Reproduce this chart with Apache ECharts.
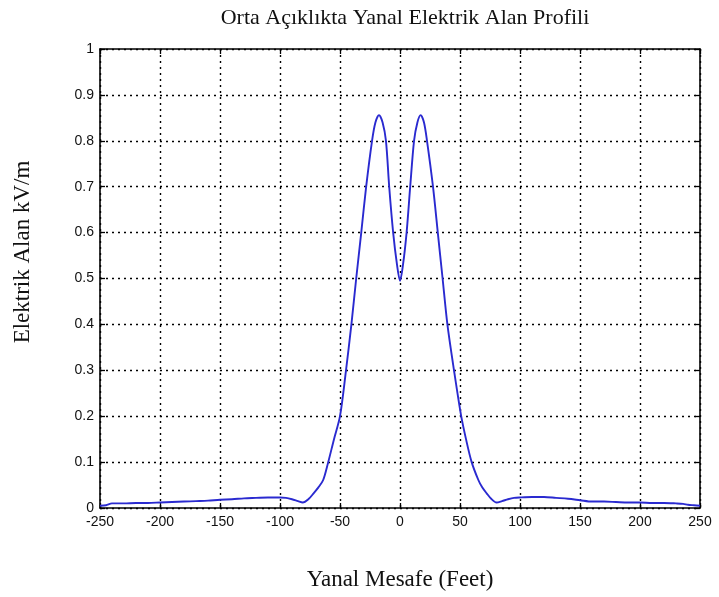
<!DOCTYPE html>
<html>
<head>
<meta charset="utf-8">
<script src="https://cdn.jsdelivr.net/npm/echarts@6/dist/echarts.min.js"></script>
<style>
  html, body { margin: 0; padding: 0; background: #fff; }
  #chart { width: 719px; height: 597px; }
</style>
</head>
<body>
<div id="chart"></div>
<script>
// Lateral distance from the line centre (feet)
const distanceFt = [
  -250, -245, -240, -230, -220, -210, -200, -190, -180, -170, -160, -150,
  -140, -130, -120, -110, -100, -95, -90, -85, -81, -76, -72, -68, -64,
  -60, -55, -50, -45, -40.5, -36.5, -32.3, -28.2, -23.3, -20.5, -17.5,
  -14.5, -11.7, -9, -5.7, -2.5, 0,
  2.5, 5.5, 8.5, 11.7, 14.5, 17.2, 20, 22.5, 27.5, 31.5, 35.5, 39.5, 45,
  51, 55, 59.7, 65.3, 68.5, 72.2, 76, 80.5, 85, 90, 95, 100, 110, 120, 130,
  140, 150, 160, 170, 180, 190, 200, 210, 220, 230, 236, 240, 245, 250
];

// Lateral electric field at mid-span (kV/m)
const fieldKVm = [
  0.005, 0.006, 0.010, 0.010, 0.011, 0.011, 0.012, 0.013, 0.014, 0.015, 0.016, 0.018,
  0.019, 0.021, 0.022, 0.023, 0.023, 0.022, 0.019, 0.015, 0.012, 0.020, 0.032, 0.045, 0.061,
  0.098, 0.150, 0.200, 0.300, 0.400, 0.500, 0.600, 0.700, 0.800, 0.840, 0.856,
  0.840, 0.800, 0.700, 0.600, 0.530, 0.495,
  0.530, 0.600, 0.700, 0.800, 0.840, 0.856, 0.840, 0.800, 0.700, 0.600, 0.500, 0.400, 0.300,
  0.200, 0.150, 0.100, 0.061, 0.045, 0.032, 0.020, 0.012, 0.015, 0.019, 0.022, 0.023, 0.024, 0.024, 0.022,
  0.020, 0.017, 0.014, 0.014, 0.013, 0.012, 0.012, 0.011, 0.011, 0.010, 0.009, 0.007, 0.006, 0.005
];

const xTicks = [-250, -200, -150, -100, -50, 0, 50, 100, 150, 200, 250];
const yTicks = [0, 0.1, 0.2, 0.3, 0.4, 0.5, 0.6, 0.7, 0.8, 0.9, 1];

const titleText = 'Orta Açıklıkta Yanal Elektrik Alan Profili';
const xName = 'Yanal Mesafe (Feet)';
const yName = 'Elektrik Alan kV/m';

const points = distanceFt.map((d, i) => [d, fieldKVm[i]]);

const serif = '"Liberation Serif", "DejaVu Serif", serif';
const sans = '"Liberation Sans", Arial, sans-serif';

const gridLine = { show: true, lineStyle: { color: '#000', width: 1.4, type: [2, 4] } };
const tickIn = { show: true, inside: true, length: 5, lineStyle: { color: '#000', width: 1.3 } };
const frameLine = { show: true, onZero: false, lineStyle: { color: '#000', width: 1.6 } };

const chart = echarts.init(document.getElementById('chart'), null, { renderer: 'canvas' });
chart.setOption({
  animation: false,
  backgroundColor: '#fff',
  title: {
    text: titleText,
    left: 400, top: 2, textAlign: 'center',
    textStyle: { fontFamily: serif, fontSize: 22, fontWeight: 'normal', color: '#111' }
  },
  // vertical axis title, set a little above the plot's middle
  graphic: [{
    type: 'text',
    x: 23, y: 252,
    rotation: Math.PI / 2,
    style: {
      text: yName,
      fontFamily: serif, fontSize: 23, fill: '#111',
      align: 'center', verticalAlign: 'middle'
    }
  }],
  grid: { left: 100, right: 19, top: 49, bottom: 89, containLabel: false },
  xAxis: [
    {
      type: 'value', min: -250, max: 250, interval: 50, position: 'bottom',
      axisLine: frameLine, axisTick: tickIn, splitLine: gridLine,
      axisLabel: {
        color: '#111', fontFamily: sans, fontSize: 14, margin: 7,
        showMinLabel: true, showMaxLabel: true,
        formatter: v => xTicks.includes(v) ? String(v) : ''
      },
      name: xName, nameLocation: 'middle', nameGap: 60,
      nameTextStyle: { fontFamily: serif, fontSize: 23, color: '#111' }
    },
    {
      type: 'value', min: -250, max: 250, interval: 50, position: 'top',
      axisLine: frameLine, axisTick: tickIn, splitLine: { show: false },
      axisLabel: { show: false }
    }
  ],
  yAxis: [
    {
      type: 'value', min: 0, max: 1, interval: 0.1, position: 'left',
      axisLine: frameLine, axisTick: tickIn, splitLine: gridLine,
      axisLabel: {
        color: '#111', fontFamily: sans, fontSize: 14, margin: 6,
        formatter: v => {
          const t = yTicks.find(y => Math.abs(y - v) < 1e-9);
          return t === undefined ? '' : String(Math.round(t * 10) / 10);
        }
      }
    },
    {
      type: 'value', min: 0, max: 1, interval: 0.1, position: 'right',
      axisLine: frameLine, axisTick: tickIn, splitLine: { show: false },
      axisLabel: { show: false }
    }
  ],
  series: [{
    type: 'line',
    data: points,
    xAxisIndex: 0, yAxisIndex: 0,
    showSymbol: false,
    smooth: 0.3,
    lineStyle: { color: '#2a2ad0', width: 1.9 },
    z: 5
  }]
});
</script>
</body>
</html>
